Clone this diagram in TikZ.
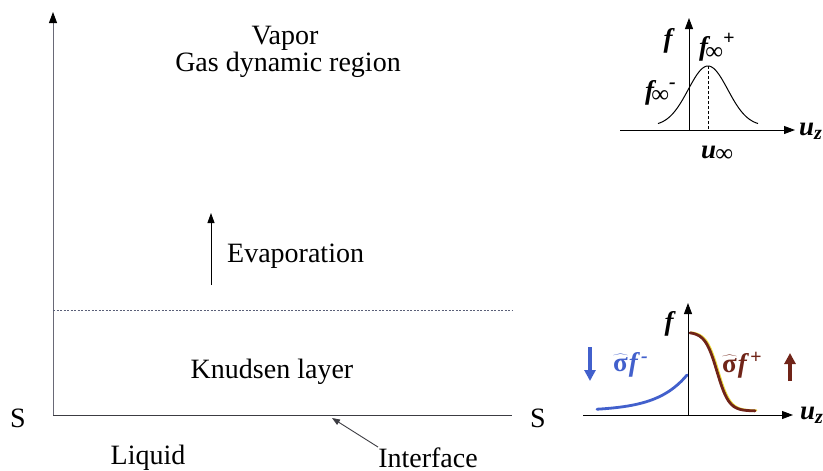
\documentclass[tikz,border=0pt]{standalone}
\usepackage{fontspec}
\setmainfont{Liberation Serif}
\usetikzlibrary{arrows.meta}
\definecolor{axisgray}{RGB}{105,105,118}
\definecolor{linegray}{RGB}{60,60,66}
\definecolor{dashgray}{RGB}{90,95,120}
\definecolor{fblue}{RGB}{66,96,204}
\definecolor{fbrown}{RGB}{112,36,24}
\definecolor{fyellow}{RGB}{236,220,60}
\newcommand{\subsz}{\fontsize{20}{20}\selectfont}
\newcommand{\infsz}{\fontsize{25}{25}\selectfont}
\newcommand{\inftysub}{\raisebox{-3pt}{\infsz ∞}}
\newcommand{\sighat}{\ensuremath{\widehat{\mbox{\upshape σ}}}}
\begin{document}
\begin{tikzpicture}[x=1pt,y=-1pt,
  txt/.style={font=\fontsize{28}{32}\selectfont, inner sep=0pt, anchor=base},
  lab/.style={font=\fontsize{27}{30}\selectfont\bfseries\itshape, inner sep=0pt, anchor=base},
  mainaxis/.style={line width=0.9pt, draw=axisgray, -{Triangle[length=11pt,width=8pt,color=black]}},
  plotaxis/.style={line width=0.9pt, -{Triangle[length=11pt,width=8pt]}},
  thinarrow/.style={line width=0.9pt, -{Triangle[length=10pt,width=7pt]}},
  fatarrow/.style={line width=3.4pt, -{Triangle[length=11pt,width=11pt]}},
  curve/.style={line width=2.8pt, line cap=round}]
\useasboundingbox (0,0) rectangle (823,471);

% ---- left panel: liquid / Knudsen layer / vapour ----
\coordinate (o) at (53,415);
\coordinate (ytop) at (53,12);
\coordinate (rend) at (512,415);
\coordinate (dl) at (53,310);
\coordinate (dr) at (512,310);
\coordinate (ev0) at (211,285);
\coordinate (ev1) at (211,213);
\coordinate (ifc) at (332,418);

\draw[mainaxis] (o) -- (ytop);
\draw[line width=0.9pt, draw=linegray] (o) -- (rend);
\draw[line width=0.6pt, draw=dashgray, dash pattern=on 2pt off 1.5pt] (dl) -- (dr);
\draw[thinarrow] (ev0) -- (ev1);

\node[txt] (vap) at (285,45) {Vapor};
\node[txt] (gas) at (288,71) {Gas dynamic region};
\node[txt, anchor=base west] (evap) at (227,262) {Evaporation};
\node[txt] (knud) at (272,378) {Knudsen layer};
\node[txt] (sl) at (18,427) {S};
\node[txt] (sr) at (538,427) {S};
\node[txt] (liq) at (148,464) {Liquid};
\node[txt] (intf) at (428,467) {Interface};
\draw[line width=0.9pt, draw=linegray, -{Triangle[length=8pt,width=6pt]}] (intf.north west) -- (ifc);

% ---- upper plot: far-field distribution ----
\coordinate (tO) at (689,130);
\coordinate (tTop) at (689,18);
\coordinate (tL) at (620,130);
\coordinate (tR) at (795,130);
\coordinate (tPk) at (708,66);
\coordinate (tPkB) at (708,130);

\draw[line width=0.9pt, densely dashed] (tPk) -- (tPkB);
\draw[line width=1pt] plot[domain=658:758, samples=80, smooth] (\x, {126-60*exp(-((\x-708)/28)^2)});
\draw[plotaxis] (tO) -- (tTop);
\draw[plotaxis] (tL) -- (tR);

\node[lab] (tf) at (668,47) {f};
\node[lab, anchor=base west] (tfp) at (699,56) {f\kern-3pt\inftysub\raisebox{11pt}{\subsz +}};
\node[lab, anchor=base west] (tfm) at (645,99) {f\kern-3pt\inftysub\raisebox{11pt}{\subsz -}};
\node[lab, anchor=base west] (tuinf) at (701,158) {u\kern-1pt\raisebox{-3pt}{\infsz ∞}};
\node[lab, anchor=base west] (tuz) at (799,135) {u\raisebox{-4pt}{\subsz z}};

% ---- lower plot: distributions at the interface ----
\coordinate (bO) at (688,415);
\coordinate (bTop) at (688,303);
\coordinate (bL) at (583,415);
\coordinate (bR) at (793,415);
\coordinate (ba0) at (590,347);
\coordinate (ba1) at (590,381);
\coordinate (bb0) at (790,381);
\coordinate (bb1) at (790,353);

\draw[plotaxis] (bL) -- (bR);
\draw[curve, draw=fyellow, line width=1.6pt, xshift=1.5pt, yshift=0.6pt]
  plot[domain=690:755, samples=70, smooth] (\x, {332+79/(1+exp(-(\x-717)/6))});
\draw[curve, draw=fbrown]
  plot[domain=690:755, samples=70, smooth] (\x, {332+79/(1+exp(-(\x-717)/6))});
\draw[curve, draw=fblue]
  plot[domain=597:687, samples=60, smooth] (\x, {411-36*exp((\x-687)/30)});
\draw[plotaxis] (bO) -- (bTop);

\node[lab] (bf) at (669,330) {f};
\node[lab, anchor=base west] (buz) at (800,419) {u\raisebox{-4pt}{\subsz z}};
\node[lab, text=fblue, anchor=base west] (bsm) at (613,371) {\sighat\kern1pt f\raisebox{9pt}{\subsz\,-}};
\node[lab, text=fbrown, anchor=base west] (bsp) at (722,372) {\sighat\kern1pt f\raisebox{9pt}{\subsz\,+}};
\draw[fatarrow, draw=fblue, fill=fblue] (ba0) -- (ba1);
\draw[fatarrow, draw=fbrown, fill=fbrown] (bb0) -- (bb1);
\end{tikzpicture}
\end{document}
